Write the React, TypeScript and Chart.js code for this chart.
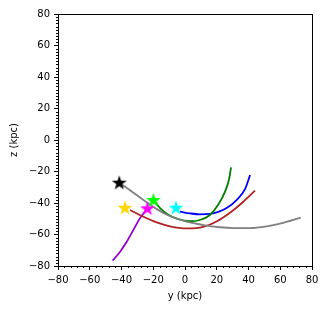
import React, { useEffect, useRef } from 'react';
import { Chart, registerables } from 'chart.js';
Chart.register(...registerables);

// Orbits (y, z in kpc)
const grayY = [-41.4, -34.6, -26.2, -17.8, -9.4, 1.0, 11.5, 22.0, 30.4, 40.9, 51.4, 61.9, 72.9];
const grayZ = [-27.1, -31.9, -38.1, -43.9, -48.4, -51.9, -54.0, -55.4, -55.9, -55.9, -54.8, -52.6, -49.3];
const redY = [-34.6, -26.2, -17.8, -9.4, 1.0, 11.5, 20.5, 30.4, 36.7, 44.1];
const redZ = [-44.4, -48.7, -52.3, -54.8, -56.1, -55.1, -51.4, -44.6, -39.2, -32.2];
const purpleY = [-45.6, -40.9, -36.7, -32.5, -28.3, -23.7];
const purpleZ = [-76.6, -70.9, -64.6, -57.1, -49.6, -43.4];
const greenY = [-19.9, -15.7, -10.5, -4.2, 3.1, 9.4, 15.7, 21.0, 25.2, 27.9, 29.0];
const greenZ = [-38.1, -43.2, -47.4, -50.3, -51.6, -50.8, -47.6, -41.0, -32.8, -24.3, -17.4];
const blueY = [-3.1, 3.1, 9.4, 15.7, 21.0, 26.2, 32.5, 37.8, 41.0];
const blueZ = [-45.5, -46.6, -47.2, -46.9, -45.6, -43.2, -38.1, -31.2, -22.2];

// Star markers (current positions)
const starY = [-41.4, -37.8, -23.7, -19.9, -5.7];
const starZ = [-27.1, -43.0, -43.4, -38.1, -43.0];
const starColors = ['#000000', '#FFD700', '#FF00FF', '#00FF00', '#00FFFF'];

const axisMin = -80;
const axisMax = 80;
const majorStep = 20;
const xMinorStep = 4;
const yMinorStep = 2;

function pts(xs: number[], ys: number[]) {
  return xs.map((v, i) => ({ x: v, y: ys[i] }));
}

function makeStar(color: string): HTMLCanvasElement {
  const s = 18;
  const c = document.createElement('canvas');
  c.width = s;
  c.height = s;
  const ctx = c.getContext('2d')!;
  const cx = s / 2, cy = s / 2 + 0.5, ro = 7.8, ri = 3.1;
  ctx.beginPath();
  for (let i = 0; i < 10; i++) {
    const r = i % 2 === 0 ? ro : ri;
    const a = -Math.PI / 2 + (i * Math.PI) / 5;
    const px = cx + r * Math.cos(a);
    const py = cy + r * Math.sin(a);
    if (i === 0) ctx.moveTo(px, py); else ctx.lineTo(px, py);
  }
  ctx.closePath();
  ctx.fillStyle = color;
  ctx.fill();
  return c;
}

const fmt = (v: number | string) => {
  const n = Number(v);
  return n < 0 ? '\u2212' + Math.abs(n) : String(n);
};

const framePlugin = {
  id: 'frameMinor',
  afterDraw(chart: any) {
    const { ctx, chartArea } = chart;
    const { left, right, top, bottom } = chartArea;
    const xs = chart.scales.x;
    const ys = chart.scales.y;
    ctx.save();
    ctx.strokeStyle = '#000';
    ctx.lineWidth = 1;
    ctx.beginPath();
    for (let v = axisMin; v <= axisMax; v += xMinorStep) {
      if (v % majorStep === 0) continue;
      const p = Math.round(xs.getPixelForValue(v)) + 0.5;
      ctx.moveTo(p, bottom);
      ctx.lineTo(p, bottom + 2);
    }
    for (let v = axisMin; v <= axisMax; v += yMinorStep) {
      if (v % majorStep === 0) continue;
      const p = Math.round(ys.getPixelForValue(v)) + 0.5;
      ctx.moveTo(left, p);
      ctx.lineTo(left - 2, p);
    }
    ctx.stroke();
    ctx.strokeRect(Math.round(left) + 0.5, Math.round(top) + 0.5, Math.round(right - left), Math.round(bottom - top));
    ctx.restore();
  },
};

export default function App() {
  const ref = useRef<HTMLCanvasElement | null>(null);
  useEffect(() => {
    if (!ref.current) return;
    const line = (xs: number[], ys: number[], color: string) => ({
      type: 'line' as const,
      data: pts(xs, ys),
      borderColor: color,
      backgroundColor: color,
      borderWidth: 1.8,
      pointRadius: 0,
      showLine: true,
      cubicInterpolationMode: 'monotone' as const,
      fill: false,
      order: 2,
    });
    const starImgs = starColors.map(makeStar);
    const chart = new Chart(ref.current, {
      type: 'scatter',
      data: {
        datasets: [
          line(grayY, grayZ, '#808080'),
          line(redY, redZ, '#B22222'),
          line(purpleY, purpleZ, '#9400D3'),
          line(greenY, greenZ, '#008000'),
          line(blueY, blueZ, '#0000FF'),
          {
            type: 'scatter' as const,
            data: pts(starY, starZ),
            pointStyle: starImgs as any,
            pointRadius: 8,
            order: 1,
          } as any,
        ],
      },
      options: {
        animation: false,
        responsive: false,
        maintainAspectRatio: false,
        layout: { padding: { left: 0, top: 14, right: 15, bottom: 0 } },
        plugins: { legend: { display: false }, tooltip: { enabled: false } },
        scales: {
          x: {
            type: 'linear',
            min: axisMin,
            max: axisMax,
            ticks: {
              stepSize: majorStep,
              autoSkip: false,
              maxRotation: 0,
              color: '#000',
              padding: 4,
              font: { family: 'DejaVu Sans', size: 10 },
              callback: (v: any) => fmt(v),
            },
            grid: { display: true, drawOnChartArea: false, tickLength: 4, color: '#000', tickColor: '#000' },
            border: { display: true, color: '#000' },
            title: {
              display: true,
              text: 'y (kpc)',
              color: '#000',
              font: { family: 'DejaVu Sans', size: 10 },
              padding: { top: 1, bottom: 9 },
            },
            afterFit: (s: any) => { s.height = 45; },
          },
          y: {
            type: 'linear',
            min: axisMin,
            max: axisMax,
            ticks: {
              stepSize: majorStep,
              autoSkip: false,
              color: '#000',
              padding: 4,
              font: { family: 'DejaVu Sans', size: 10 },
              callback: (v: any) => fmt(v),
            },
            grid: { display: true, drawOnChartArea: false, tickLength: 4, color: '#000', tickColor: '#000' },
            border: { display: true, color: '#000' },
            title: {
              display: true,
              text: 'z (kpc)',
              color: '#000',
              font: { family: 'DejaVu Sans', size: 10 },
              padding: { top: 8, bottom: 0 },
            },
            afterFit: (s: any) => { s.width = 58; },
          },
        },
      } as any,
      plugins: [framePlugin],
    });
    return () => chart.destroy();
  }, []);
  return (
    <div style={{ position: 'fixed', left: 0, top: 0, width: 327, height: 311 }}>
      <canvas ref={ref} width={327} height={311} style={{ width: 327, height: 311 }} />
    </div>
  );
}
